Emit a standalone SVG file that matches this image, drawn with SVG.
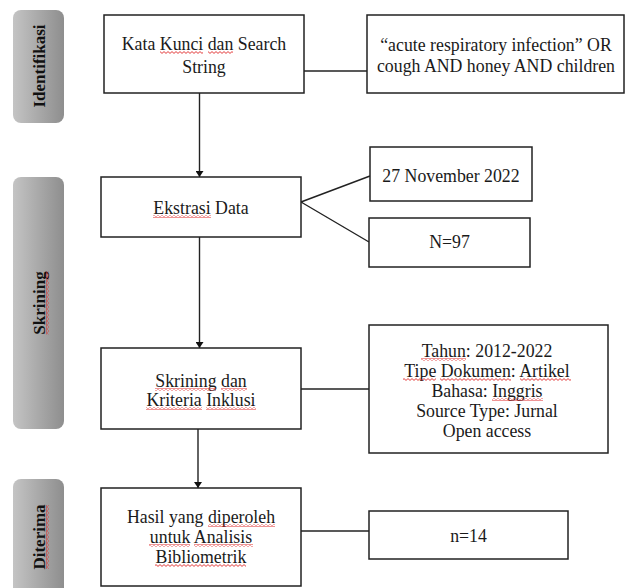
<svg xmlns="http://www.w3.org/2000/svg" width="625" height="588" viewBox="0 0 625 588">
<style>
.box{fill:#fff;stroke:#222;stroke-width:1.5}
.side{fill:url(#g);stroke:none}
.t{font-family:"Liberation Serif","Times New Roman",serif;font-size:17.8px;fill:#1a1a1a;text-anchor:middle}
.s{font-family:"Liberation Serif","Times New Roman",serif;font-size:17px;fill:#111;text-anchor:middle;font-weight:bold}
.wv{fill:url(#wave)}
.ln{stroke:#222;stroke-width:1.4;fill:none}
</style>
<defs>
<linearGradient id="g" x1="0" x2="1" y1="0" y2="0">
<stop offset="0" stop-color="#c4c4c4"/>
<stop offset="1" stop-color="#8e8e8e"/>
</linearGradient>
<pattern id="wave" patternUnits="userSpaceOnUse" width="4" height="3">
<path d="M0,0.6 L2,2.4 L4,0.6" fill="none" stroke="#e02828" stroke-width="0.9"/>
</pattern>
<marker id="a" viewBox="0 0 10 10" refX="10" refY="5" markerWidth="6" markerHeight="8" orient="auto" markerUnits="userSpaceOnUse" preserveAspectRatio="none">
<path d="M0,0 L10,5 L0,10 z" fill="#111"/>
</marker>
</defs>

<g id="side-identifikasi">
<rect class="side" x="13" y="10" width="51" height="113" rx="8"/>
<text class="s" transform="translate(45,66) rotate(-90)">Identifikasi</text>
</g>
<g id="side-skrining">
<rect class="side" x="13" y="177" width="51" height="252" rx="8"/>
<g transform="translate(45,303) rotate(-90)">
<text class="s">Skrining</text>
<rect class="wv" x="-31.5" y="1" width="63" height="3"/>
</g>
</g>
<g id="side-diterima">
<rect class="side" x="13" y="479" width="51" height="120" rx="8"/>
<g transform="translate(45,537) rotate(-90)">
<text class="s">Diterima</text>
<rect class="wv" x="-32" y="1" width="64" height="3"/>
</g>
</g>

<g id="connectors">
<line class="ln" x1="199.5" y1="93" x2="199.5" y2="177" marker-end="url(#a)"/>
<line class="ln" x1="304" y1="71" x2="367" y2="71"/>
<polyline class="ln" points="370,176 301,202 369,242"/>
<line class="ln" x1="199.5" y1="237" x2="199.5" y2="348" marker-end="url(#a)"/>
<line class="ln" x1="301" y1="389" x2="369" y2="389"/>
<line class="ln" x1="198" y1="429" x2="198" y2="488" marker-end="url(#a)"/>
<line class="ln" x1="301" y1="531" x2="369" y2="531"/>
</g>

<g id="n-kata">
<rect class="box" x="104" y="15" width="200" height="78"/>
<text class="t" x="204" y="50">Kata Kunci dan Search</text>
<text class="t" x="204" y="73">String</text>
<rect class="wv" x="160" y="51" width="43" height="3"/>
<rect class="wv" x="208" y="51" width="25" height="3"/>
</g>
<g id="n-search">
<rect class="box" x="367" y="15" width="257" height="78"/>
<text class="t" x="496" y="51">“acute respiratory infection” OR</text>
<text class="t" x="496" y="72">cough AND honey AND children</text>
</g>
<g id="n-ekstrasi">
<rect class="box" x="101" y="177" width="200" height="60"/>
<text class="t" x="201" y="214">Ekstrasi Data</text>
<rect class="wv" x="153" y="215" width="58" height="3"/>
</g>
<g id="n-date">
<rect class="box" x="370" y="147" width="162" height="54"/>
<text class="t" x="451" y="182">27 November 2022</text>
</g>
<g id="n-n97">
<rect class="box" x="369" y="218" width="161" height="49"/>
<text class="t" x="449.5" y="248">N=97</text>
</g>
<g id="n-skrining">
<rect class="box" x="101" y="348" width="200" height="81"/>
<text class="t" x="201" y="387">Skrining dan</text>
<text class="t" x="201" y="406">Kriteria Inklusi</text>
<rect class="wv" x="155" y="388" width="61" height="3"/>
<rect class="wv" x="221" y="388" width="26" height="3"/>
<rect class="wv" x="146" y="407" width="56" height="3"/>
<rect class="wv" x="206" y="407" width="50" height="3"/>
</g>
<g id="n-kriteria">
<rect class="box" x="369" y="325" width="239" height="128"/>
<text class="t" x="487" y="357">Tahun: 2012-2022</text>
<text class="t" x="487" y="377">Tipe Dokumen: Artikel</text>
<text class="t" x="487" y="397">Bahasa: Inggris</text>
<text class="t" x="487" y="417">Source Type: Jurnal</text>
<text class="t" x="487" y="437">Open access</text>
<rect class="wv" x="421" y="358" width="45" height="3"/>
<rect class="wv" x="403" y="378" width="33" height="3"/>
<rect class="wv" x="440" y="378" width="71" height="3"/>
<rect class="wv" x="520" y="378" width="51" height="3"/>
<rect class="wv" x="492" y="398" width="51" height="3"/>
</g>
<g id="n-hasil">
<rect class="box" x="101" y="488" width="200" height="98"/>
<text class="t" x="201" y="523">Hasil yang diperoleh</text>
<text class="t" x="201" y="543">untuk Analisis</text>
<text class="t" x="201" y="563">Bibliometrik</text>
<rect class="wv" x="208" y="524" width="67" height="3"/>
<rect class="wv" x="149" y="544" width="41" height="3"/>
<rect class="wv" x="194" y="544" width="59" height="3"/>
<rect class="wv" x="155" y="564" width="91" height="3"/>
</g>
<g id="n-n14">
<rect class="box" x="369" y="511" width="199" height="48"/>
<text class="t" x="468.5" y="542">n=14</text>
</g>
</svg>
